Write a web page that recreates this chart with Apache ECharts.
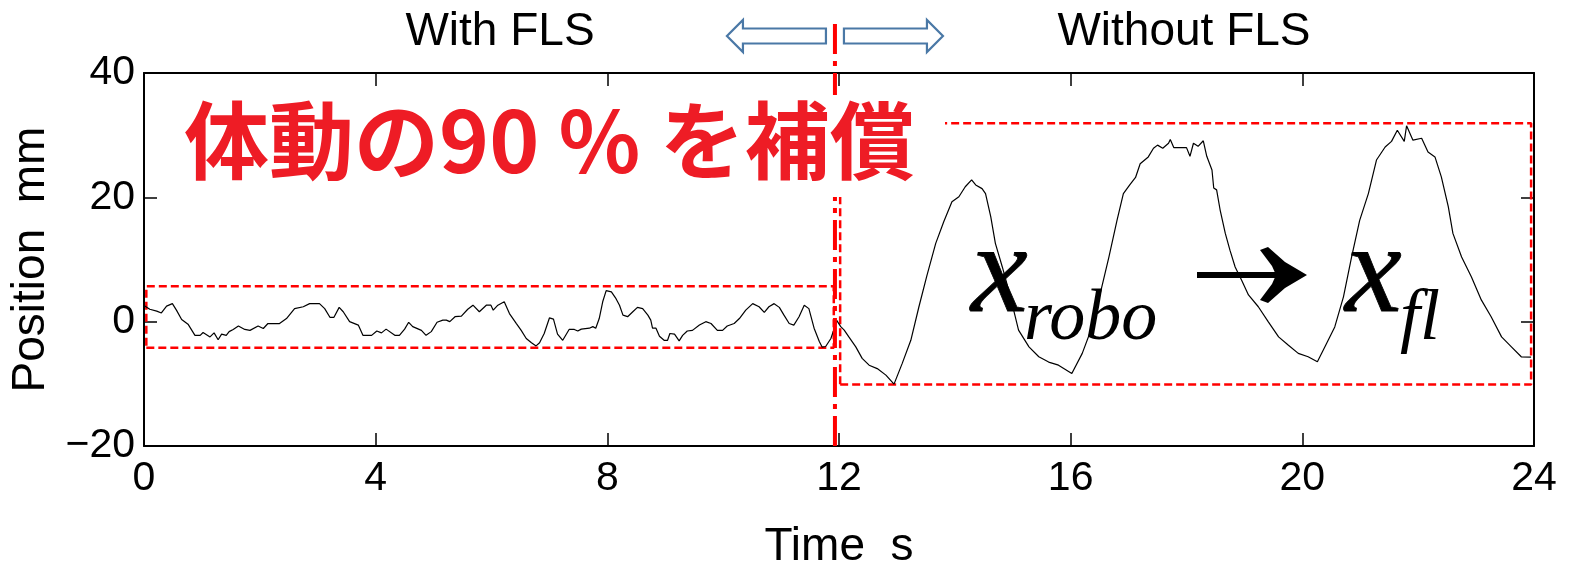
<!DOCTYPE html>
<html><head><meta charset="utf-8">
<script src="https://cdn.jsdelivr.net/npm/echarts@6/dist/echarts.min.js"></script>
<style>html,body{margin:0;padding:0;background:#fff}#c{width:1577px;height:568px}</style>
</head><body><div id="c"></div>
<script>
// ---- data ----
const timeS = [0.00,0.03,0.10,0.22,0.30,0.39,0.49,0.56,0.65,0.76,0.88,0.97,1.02,1.14,1.21,1.28,1.34,1.42,1.47,1.54,1.63,1.74,1.83,1.97,2.06,2.14,2.34,2.46,2.60,2.75,2.86,3.03,3.12,3.21,3.28,3.37,3.44,3.55,3.70,3.78,3.93,4.02,4.10,4.18,4.33,4.41,4.50,4.57,4.64,4.67,4.79,4.87,4.96,5.06,5.16,5.22,5.28,5.37,5.48,5.59,5.68,5.79,5.91,5.99,6.03,6.11,6.22,6.31,6.43,6.51,6.60,6.69,6.77,6.83,6.91,7.00,7.07,7.14,7.23,7.34,7.43,7.49,7.55,7.69,7.75,7.80,7.86,7.92,7.98,8.07,8.15,8.21,8.27,8.35,8.44,8.52,8.61,8.70,8.75,8.78,8.84,8.90,8.98,9.04,9.08,9.16,9.24,9.30,9.38,9.47,9.59,9.70,9.79,9.90,9.99,10.07,10.19,10.28,10.39,10.51,10.62,10.71,10.79,10.88,10.97,11.05,11.14,11.22,11.31,11.40,11.48,11.57,11.66,11.71,11.77,11.86,11.91,11.96,12.03,12.09,12.17,12.29,12.40,12.52,12.66,12.81,12.95,13.09,13.24,13.38,13.52,13.67,13.81,13.95,14.07,14.18,14.29,14.36,14.47,14.53,14.62,14.70,14.82,14.96,15.10,15.28,15.45,15.62,15.79,16.02,16.20,16.37,16.51,16.66,16.80,16.91,17.02,17.12,17.20,17.34,17.43,17.50,17.59,17.69,17.72,17.78,17.90,18.00,18.06,18.12,18.20,18.29,18.35,18.44,18.47,18.52,18.58,18.67,18.75,18.84,18.95,19.07,19.24,19.41,19.59,19.76,19.93,20.10,20.26,20.39,20.56,20.71,20.85,20.99,21.14,21.28,21.43,21.54,21.64,21.76,21.80,21.91,22.06,22.17,22.29,22.40,22.52,22.60,22.75,22.92,23.09,23.26,23.44,23.61,23.78,23.95];
const positionMm = [2.6,2.5,2.0,1.7,1.4,2.5,2.9,1.85,0.35,-0.4,-2.2,-2.2,-1.75,-2.45,-1.8,-2.9,-2.0,-2.2,-1.6,-1.25,-0.7,-1.25,-1.4,-0.7,-1.1,-0.3,-0.3,0.5,2.1,2.4,2.9,2.9,2.1,0.7,0.7,2.3,1.6,0,-0.55,-2.2,-2.2,-1.5,-1.8,-1.2,-2.2,-2.2,-1.2,-0.1,-0.8,-0.55,-1.4,-2.2,-1.6,-0.1,0.25,0.25,0,0.8,0.9,2.0,2.65,1.6,2.65,2.65,1.85,2.65,3.2,1.3,-0.3,-1.35,-2.7,-3.4,-3.9,-3.4,-1.9,0.6,0.4,-2.0,-3.0,-1.25,-1.25,-1.5,-1.2,-1.05,-0.8,-1.05,0.5,3.2,5.0,4.8,3.7,2.65,1.05,0.8,1.6,2.3,2.1,1.05,0.25,-1.05,-1.05,-2.35,-3.0,-3.0,-1.9,-2.0,-3.1,-2.2,-1.5,-1.4,-0.55,0,-0.3,-1.4,-1.4,-0.7,-0.3,0.5,1.85,2.9,2.4,1.5,2.4,2.9,2.3,1.05,-0.3,-0.55,0.8,2.65,2.1,-1.05,-3.2,-4.1,-4.0,-2.7,-1.35,0.2,-0.8,-1.35,-2.45,-4.05,-5.9,-7.0,-7.55,-8.6,-10.05,-6.75,-3.0,2.4,7.5,12.6,16.1,19.3,20.1,21.7,22.8,22.0,21.4,20.6,16.9,12.6,8.8,4.0,-1.35,-4.05,-5.65,-6.5,-7.0,-8.35,-5.1,-0.85,4.5,10.4,16.3,20.6,22.0,23.2,25.4,26.5,27.9,28.4,27.9,28.7,29.3,28.0,28.0,28.0,26.6,28.7,28.2,29.1,26.6,24.4,21.5,21.2,18.0,14.2,11.5,8.8,6.7,4.3,2.4,0,-2.45,-3.8,-5.1,-5.65,-6.45,-4.05,-0.85,4.0,10.4,16.3,20.6,26.0,28.1,29.0,30.8,29.0,31.5,29.2,29.5,27.3,26.5,23.3,18.5,14.2,10.4,7.2,3.5,0.8,-2.45,-4.05,-5.65,-5.7];
const xTicks = [0, 4, 8, 12, 16, 20, 24];
const yTicks = [-20, 0, 20, 40];
const splitTime = 11.93;
const splitSpan = [-20, 48.9];
const boxWith = [0.04, 11.91, -4.2, 5.7];      // t0, t1, y0, y1
const boxWithout = [12.02, 23.95, -10.1, 31.9];
const headline = '体動の90 % を補償';
const leftLabel = 'With FLS';
const rightLabel = 'Without FLS';

const curve = timeS.map((t, i) => [t, positionMm[i]]);
const boxPath = b => [[b[0], b[2]], [b[1], b[2]], [b[1], b[3]], [b[0], b[3]], [b[0], b[2]]];
const FONT = "'Liberation Sans', Arial, sans-serif";
const minus = v => String(v).replace('-', '\u2212');

const chart = echarts.init(document.getElementById('c'), null, {renderer: 'canvas'});
const axisCommon = {
  type: 'value',
  axisLine: {show: true, onZero: false, lineStyle: {color: '#000', width: 2}},
  axisTick: {show: true, inside: true, length: 13, lineStyle: {color: '#000', width: 1.5}},
  splitLine: {show: false}
};
const dashRed = {color: '#ff0000', width: 2.5, type: [8, 4]};
chart.setOption({
  animation: false,
  backgroundColor: '#fff',
  grid: {left: 144, right: 43, top: 73, bottom: 122, show: false, containLabel: false, outerBoundsMode: 'none'},
  xAxis: [
    Object.assign({}, axisCommon, {
      min: xTicks[0], max: xTicks[xTicks.length - 1], interval: 4, position: 'bottom',
      axisLabel: {fontSize: 41, fontFamily: FONT, color: '#000', margin: 12},
      name: 'Time  s', nameLocation: 'middle', nameGap: 78,
      nameTextStyle: {fontSize: 46, fontFamily: FONT, color: '#000'}
    }),
    Object.assign({}, axisCommon, {
      min: xTicks[0], max: xTicks[xTicks.length - 1], interval: 4, position: 'top',
      axisLabel: {show: false}
    })
  ],
  yAxis: [
    Object.assign({}, axisCommon, {
      min: yTicks[0], max: yTicks[yTicks.length - 1], interval: 20, position: 'left',
      axisLabel: {fontSize: 41, fontFamily: FONT, color: '#000', margin: 9, formatter: minus},
      name: 'Position  mm', nameLocation: 'middle', nameGap: 81,
      nameTextStyle: {fontSize: 46, fontFamily: FONT, color: '#000'}
    }),
    Object.assign({}, axisCommon, {
      min: yTicks[0], max: yTicks[yTicks.length - 1], interval: 20, position: 'right',
      axisLabel: {show: false}
    })
  ],
  series: [
    {type: 'line', data: boxPath(boxWith), showSymbol: false, lineStyle: dashRed, z: 2},
    {type: 'line', data: boxPath(boxWithout), showSymbol: false, lineStyle: dashRed, z: 2},
    {type: 'line', data: curve, showSymbol: false, lineStyle: {color: '#000', width: 1.2}, z: 3},
    {type: 'line', data: splitSpan.map(v => [splitTime, v]), showSymbol: false, clip: false,
     lineStyle: {color: '#ff0000', width: 4, type: [30, 7, 5, 7]}, z: 4}
  ]
});

// annotations positioned from the axis scales
const px = (t, v) => chart.convertToPixel({gridIndex: 0}, [t, v]);
const sp = px(splitTime, 40);
const sx = sp[0];
const ay = 36;
function arrow(dir) {
  const s0 = sx + dir * 9, s1 = sx + dir * 92, tip = sx + dir * 108;
  return {
    type: 'polygon', z: 110,
    shape: {points: [[s0, ay - 7.5], [s1, ay - 7.5], [s1, ay - 16], [tip, ay], [s1, ay + 16], [s1, ay + 7.5], [s0, ay + 7.5]]},
    style: {fill: '#fff', stroke: '#4a78a6', lineWidth: 2.2}
  };
}
const serif = "'Liberation Serif', 'Times New Roman', serif";
chart.setOption({
  graphic: [
    {type: 'rect', z: 100, shape: {x: 178, y: 95, width: 767, height: 102}, style: {fill: '#fff'}},
    {type: 'text', z: 101, x: 184, y: 141, style: {text: headline, fill: '#ee1c25', font: "bold 85px 'Noto Sans CJK JP'", verticalAlign: 'middle', align: 'left'}},
    {type: 'text', z: 101, x: 500, y: 32, style: {text: leftLabel, fill: '#000', font: '46px ' + FONT, align: 'center', verticalAlign: 'middle'}},
    {type: 'text', z: 101, x: 1184, y: 32, style: {text: rightLabel, fill: '#000', font: '46px ' + FONT, align: 'center', verticalAlign: 'middle'}},
    arrow(-1), arrow(1),
    {type: 'text', z: 101, x: 971, y: 277, style: {text: 'x', fill: '#000', font: 'italic 128px ' + serif, verticalAlign: 'middle', stroke: '#000', lineWidth: 0.8}},
    {type: 'text', z: 101, x: 1024, y: 320, style: {text: 'robo', fill: '#000', font: 'italic 72px ' + serif, verticalAlign: 'middle'}},
    {type: 'rect', z: 101, shape: {x: 1197, y: 272, width: 100, height: 6}, style: {fill: '#000'}},
    {type: 'polygon', z: 101, shape: {points: [[1307, 275], [1285, 262], [1268, 247], [1260, 250], [1272, 266], [1276, 275], [1272, 284], [1260, 300], [1268, 303], [1285, 288]]}, style: {fill: '#000'}},
    {type: 'text', z: 101, x: 1345, y: 277, style: {text: 'x', fill: '#000', font: 'italic 128px ' + serif, verticalAlign: 'middle', stroke: '#000', lineWidth: 0.8}},
    {type: 'text', z: 101, x: 1400, y: 320, style: {text: 'fl', fill: '#000', font: 'italic 72px ' + serif, verticalAlign: 'middle'}}
  ]
});
</script></body></html>
